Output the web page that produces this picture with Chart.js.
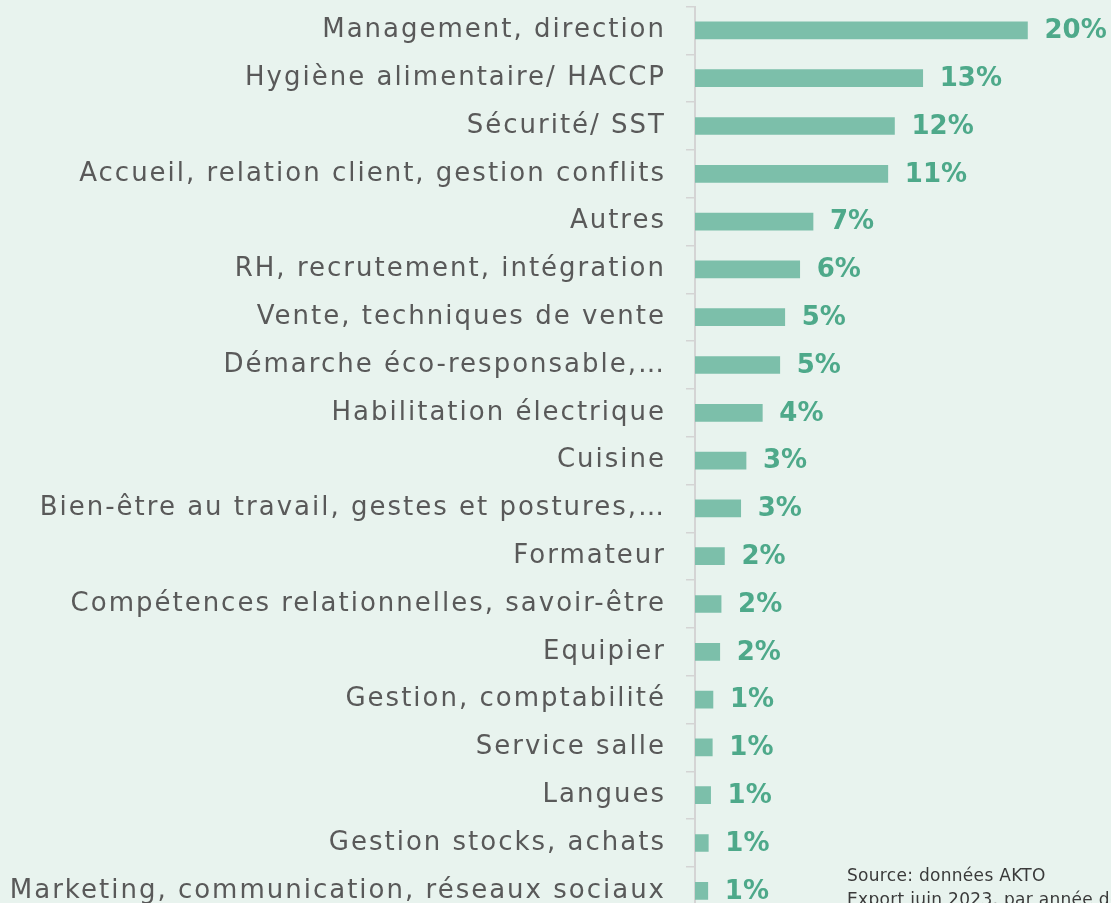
<!DOCTYPE html>
<html>
<head>
<meta charset="utf-8">
<script src="https://cdn.jsdelivr.net/npm/chart.js@4.4.0/dist/chart.umd.min.js"></script>
<style>
  html, body { margin: 0; padding: 0; background: #e8f3ee; overflow: hidden; width: 1111px; height: 903px; }
  #wrap { position: absolute; left: 0; top: 0; width: 1111px; height: 920px; }
  #src { position: absolute; left: 847px; top: 863px; font-family: "DejaVu Sans", sans-serif; font-size: 17px; letter-spacing: 0.3px; color: #3a3a3a; line-height: 24px; white-space: nowrap; }
</style>
</head>
<body>
<div id="wrap"><canvas id="c"></canvas></div>
<div id="src">Source: données AKTO<br>Export juin 2023, par année de formation</div>
<script>
const categories = [
  "Management, direction",
  "Hygiène alimentaire/ HACCP",
  "Sécurité/ SST",
  "Accueil, relation client, gestion conflits",
  "Autres",
  "RH, recrutement, intégration",
  "Vente, techniques de vente",
  "Démarche éco-responsable,…",
  "Habilitation électrique",
  "Cuisine",
  "Bien-être au travail, gestes et postures,…",
  "Formateur",
  "Compétences relationnelles, savoir-être",
  "Equipier",
  "Gestion, comptabilité",
  "Service salle",
  "Langues",
  "Gestion stocks, achats",
  "Marketing, communication, réseaux sociaux"
];
const shares = [20.0, 13.7, 12.0, 11.6, 7.1, 6.3, 5.4, 5.1, 4.05, 3.07, 2.75, 1.77, 1.57, 1.49, 1.08, 1.04, 0.94, 0.80, 0.77];
const shownLabels = ["20%","13%","12%","11%","7%","6%","5%","5%","4%","3%","3%","2%","2%","2%","1%","1%","1%","1%","1%"];

const textSpacing = {
  id: 'textSpacing',
  beforeDraw(chart) { chart.ctx.letterSpacing = '2px'; },
  afterDraw(chart) { chart.ctx.letterSpacing = '0px'; }
};

const valueLabels = {
  id: 'valueLabels',
  afterDatasetsDraw(chart) {
    const ctx = chart.ctx;
    const meta = chart.getDatasetMeta(0);
    ctx.save();
    ctx.letterSpacing = '0px';
    ctx.font = 'bold 26px "DejaVu Sans", sans-serif';
    ctx.fillStyle = '#4ea98a';
    ctx.textAlign = 'left';
    ctx.textBaseline = 'middle';
    meta.data.forEach((bar, i) => {
      ctx.fillText(shownLabels[i], bar.x + 17, bar.y + 1);
    });
    ctx.restore();
  }
};

new Chart(document.getElementById('c'), {
  type: 'bar',
  data: {
    labels: categories,
    datasets: [{
      data: shares,
      backgroundColor: '#7cbfaa',
      barThickness: 17
    }]
  },
  options: {
    indexAxis: 'y',
    responsive: true,
    maintainAspectRatio: false,
    animation: false,
    layout: { padding: { top: 6.5, right: 42, bottom: 5.3, left: 0 } },
    plugins: { legend: { display: false }, tooltip: { enabled: false } },
    scales: {
      x: { display: false, min: 0, max: 22.5 },
      y: {
        z: 1,
        afterFit(scale) { scale.width = 695; scale.paddingTop = 0; scale.paddingBottom = 0; },
        grid: { display: true, drawOnChartArea: false, drawTicks: true, tickLength: 9, color: '#d4d4d4', lineWidth: 1.5, offset: true },
        border: { display: true, color: '#d4d4d4', width: 2 },
        ticks: { autoSkip: false, padding: 20, color: '#595959', font: { family: '"DejaVu Sans", sans-serif', size: 26 } }
      }
    }
  },
  plugins: [textSpacing, valueLabels]
});
</script>
</body>
</html>
